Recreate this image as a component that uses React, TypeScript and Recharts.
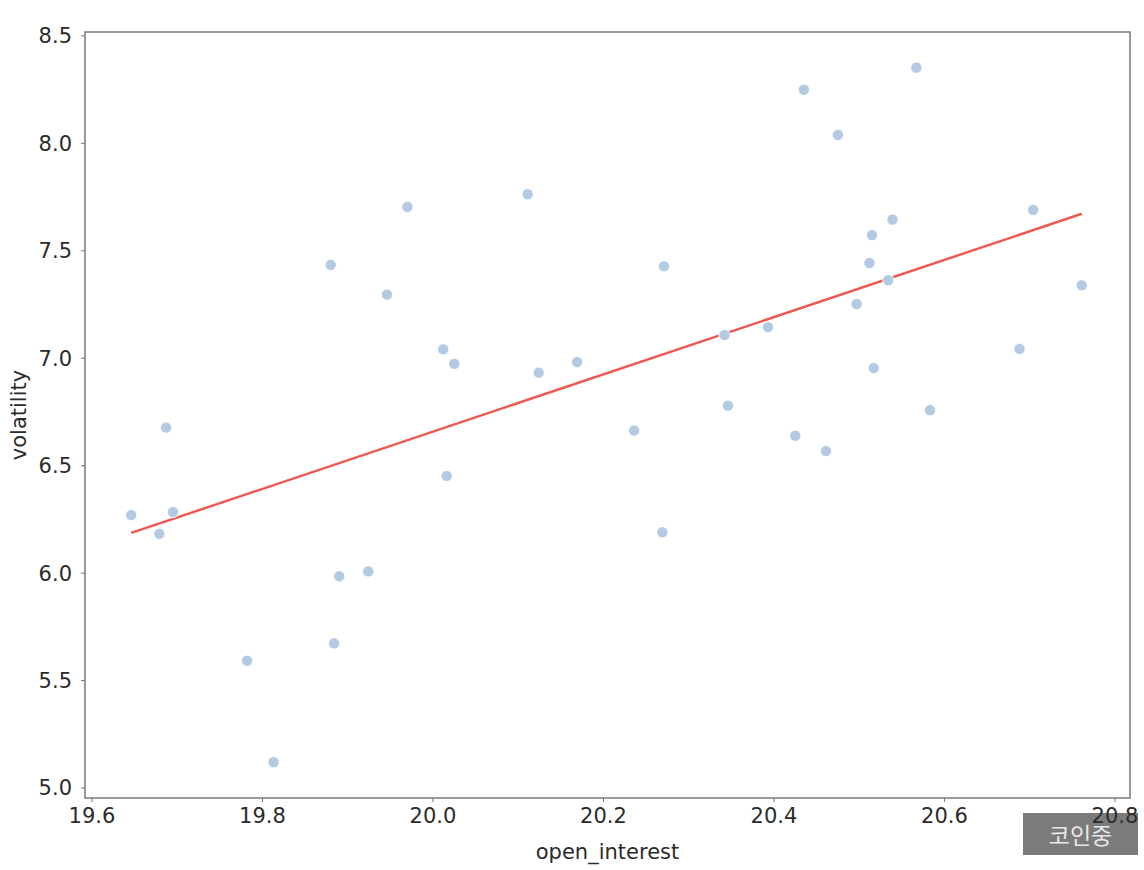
import { ReferenceArea, ReferenceLine, Scatter, ScatterChart, XAxis, YAxis } from "recharts";

const openInterest = [
  19.646, 19.679, 19.687, 19.695, 19.782, 19.813, 19.88, 19.884, 19.89, 19.924,
  19.946, 19.97, 20.012, 20.016, 20.025, 20.111, 20.124, 20.169, 20.236, 20.269,
  20.271, 20.342, 20.346, 20.393, 20.425, 20.435, 20.461, 20.475, 20.497, 20.512,
  20.515, 20.517, 20.534, 20.539, 20.567, 20.583, 20.688, 20.704, 20.761,
];
const volatility = [
  6.27, 6.183, 6.677, 6.284, 5.592, 5.12, 7.434, 5.673, 5.985, 6.008,
  7.296, 7.704, 7.041, 6.452, 6.974, 7.763, 6.933, 6.982, 6.663, 6.19,
  7.428, 7.108, 6.779, 7.144, 6.639, 8.249, 6.568, 8.039, 7.252, 7.443,
  7.573, 6.954, 7.363, 7.645, 8.352, 6.758, 7.043, 7.69, 7.339,
];
const fitX = [19.646, 20.761];
const fitY = [6.187, 7.672];
const xTicks = [19.6, 19.8, 20.0, 20.2, 20.4, 20.6, 20.8];
const yTicks = [5.0, 5.5, 6.0, 6.5, 7.0, 7.5, 8.0, 8.5];
const xDomain = [19.5918, 20.8176];
const yDomain = [4.9535, 8.518];

const points = openInterest.map((x, i) => ({ x, y: volatility[i] }));

const font = "DejaVu Sans";
const tickStyle = { fontSize: 21, fill: "#2b2b2b", fontFamily: font };

// seaborn-ish dot: pale blue with a thin white edge
const Dot = (props: any) => (
  <circle cx={props.cx} cy={props.cy} r={5.6} fill="#b3cbe2" stroke="#fff" strokeWidth={0.8} />
);

export default function App() {
  return (
    <div style={{ position: "absolute", left: 0, top: 0, width: 1144, height: 870, background: "#fff" }}>
      {/* watermark sits behind the chart, the 20.8 tick runs over it */}
      <div
        style={{
          position: "absolute",
          left: 1023,
          top: 813,
          width: 115,
          height: 42,
          background: "#7b7b7b",
          color: "#e8e8e8",
          fontFamily: "Noto Sans CJK KR",
          fontSize: 23,
          lineHeight: "42px",
          textAlign: "center",
        }}
      >
        코인중
      </div>
      <div style={{ position: "absolute", left: 0, top: 0 }}>
        <ScatterChart width={1144} height={870} margin={{ top: 32, right: 14, bottom: 8, left: 19 }}>
          <XAxis
            type="number"
            dataKey="x"
            domain={xDomain}
            allowDataOverflow
            ticks={xTicks}
            interval={0}
            tickFormatter={(v: number) => v.toFixed(1)}
            height={64}
            axisLine={false}
            tickSize={4}
            tickMargin={6}
            tickLine={{ stroke: "#777" }}
            tick={tickStyle}
            label={{
              value: "open_interest",
              position: "insideBottom",
              offset: 3,
              style: { fontSize: 21, fill: "#2b2b2b", fontFamily: font },
            }}
          />
          <YAxis
            type="number"
            dataKey="y"
            domain={yDomain}
            allowDataOverflow
            ticks={yTicks}
            interval={0}
            tickFormatter={(v: number) => v.toFixed(1)}
            width={66}
            axisLine={false}
            tickSize={4}
            tickMargin={9}
            tickLine={{ stroke: "#777" }}
            tick={tickStyle}
            label={{
              value: "volatility",
              angle: -90,
              position: "insideLeft",
              offset: 0,
              style: { fontSize: 21, fill: "#2b2b2b", fontFamily: font, textAnchor: "middle" },
            }}
          />
          <Scatter data={points} shape={Dot} isAnimationActive={false} />
          <ReferenceLine
            segment={[
              { x: fitX[0], y: fitY[0] },
              { x: fitX[1], y: fitY[1] },
            ]}
            stroke="#ec5a52"
            strokeWidth={2.5}
          />
          <ReferenceArea
            x1={xDomain[0]}
            x2={xDomain[1]}
            y1={yDomain[0]}
            y2={yDomain[1]}
            fill="none"
            stroke="#7a7a7a"
            strokeWidth={1.5}
          />
        </ScatterChart>
      </div>
    </div>
  );
}
